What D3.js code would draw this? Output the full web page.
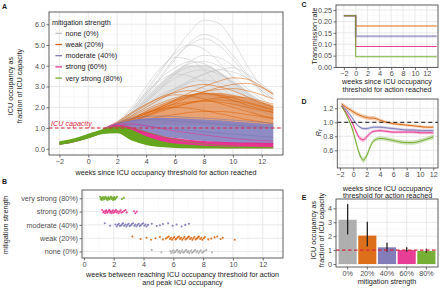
<!DOCTYPE html>
<html>
<head>
<meta charset="utf-8">
<script src="https://cdn.jsdelivr.net/npm/d3@7"></script>
<style>
	body { margin: 0; background: #fff; }
</style>
</head>
<body>
<svg id="fig" width="440" height="288"></svg>
<script>
// groups and colours
const groups = [ 'none (0%)', 'weak (20%)', 'moderate (40%)', 'strong (60%)', 'very strong (80%)' ];
const groupShort = [ '0%', '20%', '40%', '60%', '80%' ];
const colors = [ '#bdbdbd', '#d95f02', '#7570b3', '#e7298a', '#66a61e' ];

// ---- panel A: trajectories (weeks 1 .. 12.8) ----
const weeksLine = [ 1, 2, 3, 4, 5, 6, 7, 8, 9, 10, 11, 12, 12.8 ];
const greyLines = [
	[ 0.9, 1.2, 1.8, 2.7, 3.7, 4.7, 5.6, 6.2, 6.05, 5.2, 4.0, 3.0, 2.65 ],
	[ 0.9, 1.2, 1.7, 2.5, 3.4, 4.3, 5.1, 5.5, 5.25, 4.5, 3.6, 2.8, 2.4 ],
	[ 0.9, 1.25, 1.9, 2.8, 3.8, 4.6, 5.0, 4.8, 4.2, 3.4, 2.7, 2.1, 1.8 ],
	[ 0.9, 1.15, 1.6, 2.2, 2.9, 3.6, 4.2, 4.5, 4.4, 4.0, 3.4, 2.8, 2.4 ],
	[ 0.9, 1.2, 1.8, 2.6, 3.4, 3.9, 4.2, 4.1, 3.7, 3.1, 2.5, 2.0, 1.7 ],
	[ 0.9, 1.15, 1.6, 2.3, 3.0, 3.6, 3.95, 4.0, 3.7, 3.2, 2.6, 2.1, 1.8 ],
	[ 0.88, 1.1, 1.4, 1.9, 2.4, 2.9, 3.3, 3.6, 3.8, 3.7, 3.4, 2.9, 2.5 ],
	[ 0.92, 1.25, 1.9, 2.7, 3.3, 3.6, 3.5, 3.2, 2.8, 2.3, 1.9, 1.5, 1.3 ],
	[ 0.88, 1.1, 1.5, 2.0, 2.5, 2.9, 3.2, 3.3, 3.2, 2.9, 2.5, 2.1, 1.9 ],
	[ 0.9, 1.2, 1.6, 2.1, 2.6, 2.9, 3.0, 2.9, 2.6, 2.3, 1.9, 1.6, 1.4 ],
	[ 0.88, 1.1, 1.4, 1.8, 2.1, 2.4, 2.55, 2.6, 2.5, 2.3, 2.1, 1.8, 1.6 ],
	[ 0.92, 1.3, 2.0, 3.0, 3.9, 4.4, 4.3, 3.8, 3.1, 2.5, 2.0, 1.6, 1.4 ],
	[ 0.88, 1.1, 1.4, 1.8, 2.3, 2.8, 3.2, 3.6, 3.8, 3.9, 3.6, 3.1, 2.7 ],
	[ 0.9, 1.2, 1.8, 2.6, 3.5, 4.4, 5.0, 5.3, 5.0, 4.3, 3.5, 2.7, 2.2 ],
	[ 0.9, 1.2, 1.7, 2.4, 3.1, 3.7, 4.1, 4.2, 4.0, 3.5, 2.9, 2.4, 2.0 ],
	[ 0.9, 1.2, 1.7, 2.3, 2.9, 3.4, 3.7, 3.8, 3.6, 3.2, 2.7, 2.25, 1.95 ],
];
const orangeLines = [
	[ 0.9, 1.15, 1.4, 1.7, 2.0, 2.35, 2.7, 3.0, 3.25, 3.42, 3.35, 3.0, 2.65 ],
	[ 0.9, 1.2, 1.6, 2.0, 2.4, 2.75, 3.0, 3.1, 3.0, 2.8, 2.5, 2.2, 2.0 ],
	[ 0.88, 1.1, 1.4, 1.7, 2.0, 2.3, 2.55, 2.75, 2.85, 2.9, 2.8, 2.6, 2.4 ],
	[ 0.9, 1.25, 1.7, 2.1, 2.5, 2.7, 2.8, 2.7, 2.55, 2.35, 2.1, 1.9, 1.75 ],
	[ 0.88, 1.1, 1.3, 1.6, 1.9, 2.2, 2.5, 2.75, 2.95, 3.1, 3.15, 2.95, 2.6 ],
	[ 0.92, 1.3, 1.75, 2.15, 2.45, 2.6, 2.55, 2.4, 2.2, 2.0, 1.8, 1.6, 1.5 ],
	[ 0.88, 1.15, 1.45, 1.7, 1.95, 2.15, 2.25, 2.3, 2.25, 2.15, 2.0, 1.85, 1.75 ],
	[ 0.9, 1.2, 1.5, 1.75, 1.9, 2.0, 1.95, 1.85, 1.7, 1.55, 1.4, 1.3, 1.2 ],
	[ 0.88, 1.1, 1.25, 1.4, 1.55, 1.65, 1.75, 1.8, 1.8, 1.75, 1.65, 1.55, 1.45 ],
	[ 0.88, 1.1, 1.3, 1.55, 1.8, 2.0, 2.2, 2.35, 2.45, 2.5, 2.45, 2.3, 2.15 ],
	[ 0.9, 1.2, 1.55, 1.9, 2.2, 2.45, 2.6, 2.65, 2.6, 2.45, 2.25, 2.05, 1.9 ],
	[ 0.88, 1.1, 1.35, 1.6, 1.85, 2.05, 2.2, 2.3, 2.35, 2.3, 2.2, 2.0, 1.85 ],
];
const purpleLines = [
	[ 0.95, 1.25, 1.45, 1.55, 1.58, 1.55, 1.5, 1.47, 1.43, 1.38, 1.33, 1.28, 1.22 ],
	[ 0.95, 1.2, 1.35, 1.4, 1.4, 1.35, 1.3, 1.25, 1.2, 1.15, 1.1, 1.05, 1.0 ],
	[ 0.9, 1.1, 1.15, 1.1, 1.02, 0.95, 0.88, 0.82, 0.76, 0.7, 0.65, 0.6, 0.55 ],
];
const pinkLines = [
	[ 0.95, 1.2, 1.2, 1.1, 0.98, 0.86, 0.76, 0.66, 0.58, 0.5, 0.44, 0.4, 0.37 ],
];
const greenLines = [
	[ 0.95, 1.06, 1.0, 0.82, 0.62, 0.45, 0.32, 0.23, 0.17, 0.13, 0.1, 0.08, 0.07 ],
];

// ---- panel A: dense bands of trajectories (weeks -2 .. 12.8) ----
const weeksBand = [ -2, -1, 0, 1, 2, 3, 4, 5, 6, 7, 8, 9, 10, 11, 12, 12.8 ];
const greyLo = [ 0.2, 0.32, 0.52, 0.75, 1.1, 1.4, 1.8, 2.1, 2.3, 2.4, 2.4, 2.3, 2.1, 1.9, 1.7, 1.5 ];
const greyHi = [ 0.32, 0.45, 0.65, 0.92, 1.25, 1.75, 2.5, 3.2, 3.75, 4.05, 4.05, 3.75, 3.3, 2.8, 2.3, 2.0 ];
const orangeLo = [ 0.2, 0.32, 0.52, 0.75, 1.0, 1.05, 1.1, 1.15, 1.15, 1.15, 1.15, 1.1, 1.05, 1.0, 1.0, 0.95 ];
const orangeHi = [ 0.32, 0.45, 0.65, 0.92, 1.2, 1.5, 1.85, 2.15, 2.4, 2.6, 2.7, 2.7, 2.6, 2.45, 2.25, 2.1 ];
const purpleLo = [ 0.2, 0.32, 0.52, 0.75, 0.9, 0.82, 0.72, 0.62, 0.52, 0.44, 0.37, 0.31, 0.27, 0.24, 0.21, 0.2 ];
const purpleHi = [ 0.32, 0.45, 0.65, 0.92, 1.22, 1.38, 1.47, 1.5, 1.48, 1.45, 1.41, 1.37, 1.32, 1.27, 1.22, 1.18 ];
const pinkLo = [ 0.2, 0.32, 0.52, 0.75, 0.8, 0.55, 0.35, 0.22, 0.14, 0.09, 0.06, 0.04, 0.03, 0.03, 0.02, 0.02 ];
const pinkHi = [ 0.32, 0.45, 0.65, 0.92, 1.16, 1.05, 0.82, 0.64, 0.52, 0.44, 0.38, 0.34, 0.32, 0.3, 0.29, 0.28 ];
const greenLo = [ 0.18, 0.32, 0.5, 0.71, 0.75, 0.4, 0.18, 0.08, 0.04, 0.02, 0.01, 0.01, 0.01, 0.01, 0.01, 0.01 ];
const greenHi = [ 0.36, 0.5, 0.72, 0.94, 1.05, 0.92, 0.6, 0.38, 0.26, 0.19, 0.15, 0.12, 0.1, 0.08, 0.07, 0.06 ];

// ---- panel B: weeks between threshold and peak ----
const bNone = [ 4.55, 5.2, 5.8, 5.86, 5.93, 6.0, 6.05, 6.12, 6.2, 6.26, 6.33, 6.4, 6.46, 6.53, 6.6, 6.66, 6.73, 6.8, 6.86, 6.93, 7.0, 7.06, 7.13, 7.2, 7.26, 7.33, 7.4, 7.47, 7.55, 7.62, 7.7, 7.78, 7.85, 7.93, 8.0, 8.1, 8.22, 8.6 ];
const bWeak = [ 3.25, 3.8, 4.2, 4.5, 4.8, 5.1, 5.3, 5.5, 5.6, 5.7, 5.78, 5.85, 5.92, 6.0, 6.07, 6.15, 6.22, 6.3, 6.38, 6.45, 6.52, 6.6, 6.68, 6.75, 6.82, 6.9, 6.98, 7.05, 7.12, 7.2, 7.28, 7.35, 7.42, 7.5, 7.58, 7.65, 7.72, 7.8, 7.88, 7.95, 8.05, 8.12, 8.35, 8.55, 8.77, 8.95, 9.18, 9.32, 10.12 ];
const bModerate = [ 1.4, 1.75, 2.12, 2.2, 2.28, 2.35, 2.42, 2.5, 2.57, 2.63, 2.7, 2.78, 2.85, 2.92, 3.0, 3.07, 3.15, 3.22, 3.3, 3.38, 3.45, 3.52, 3.6, 3.68, 3.75, 3.82, 3.9, 3.98, 4.05, 4.13, 4.2, 4.3, 4.55, 4.88, 5.1, 5.3, 5.65, 5.95, 6.22, 6.55, 6.8, 7.05 ];
const bStrong = [ 1.22, 1.3, 1.35, 1.42, 1.47, 1.5, 1.56, 1.6, 1.66, 1.71, 1.75, 1.8, 1.86, 1.9, 1.95, 2.0, 2.06, 2.1, 2.15, 2.2, 2.27, 2.33, 2.4, 2.46, 2.52, 2.6, 2.7, 2.8, 2.87, 3.36, 3.45, 3.55 ];
const bVeryStrong = [ 1.08, 1.12, 1.17, 1.2, 1.25, 1.28, 1.33, 1.37, 1.41, 1.45, 1.5, 1.53, 1.57, 1.62, 1.66, 1.7, 1.74, 1.79, 1.83, 1.87, 1.91, 1.96, 2.0, 2.04, 2.08, 2.12, 2.17, 2.22, 2.55, 2.68 ];
const bPoints = [ bNone, bWeak, bModerate, bStrong, bVeryStrong ];

// ---- panel C: transmission rate ----
const weeksC = [ -2, 0, 0, 13.7 ];
const cRates = [
	null,
	[ 0.225, 0.225, 0.18, 0.18 ],
	[ 0.225, 0.225, 0.135, 0.135 ],
	[ 0.225, 0.225, 0.09, 0.09 ],
	[ 0.225, 0.225, 0.045, 0.045 ],
];

// ---- panel D: Rt ----
const weeksD = [ -1.75, -1, 0, 0.5, 1, 1.5, 2, 2.5, 3, 4, 5, 6, 7, 8, 9, 10, 11, 12 ];
const dMean = [
	null,
	[ 1.26, 1.21, 1.15, 1.12, 1.1, 1.08, 1.07, 1.06, 1.06, 1.03, 1.0, 0.98, 0.97, 0.96, 0.95, 0.94, 0.93, 0.93 ],
	[ 1.24, 1.17, 1.04, 0.97, 0.93, 0.91, 0.91, 0.92, 0.93, 0.93, 0.92, 0.91, 0.9, 0.89, 0.89, 0.88, 0.88, 0.88 ],
	[ 1.23, 1.13, 0.96, 0.85, 0.77, 0.75, 0.79, 0.84, 0.87, 0.88, 0.87, 0.86, 0.86, 0.86, 0.86, 0.85, 0.85, 0.85 ],
	[ 1.23, 1.1, 0.86, 0.68, 0.53, 0.46, 0.52, 0.64, 0.73, 0.77, 0.76, 0.74, 0.72, 0.71, 0.71, 0.73, 0.76, 0.79 ],
];
const dSpread = [
	null,
	[ 0.03, 0.03, 0.03, 0.03, 0.03, 0.03, 0.03, 0.03, 0.03, 0.025, 0.02, 0.02, 0.02, 0.02, 0.02, 0.02, 0.02, 0.02 ],
	[ 0.02, 0.02, 0.02, 0.02, 0.02, 0.02, 0.02, 0.02, 0.02, 0.02, 0.02, 0.02, 0.02, 0.02, 0.02, 0.02, 0.02, 0.02 ],
	[ 0.02, 0.02, 0.025, 0.03, 0.03, 0.03, 0.03, 0.025, 0.02, 0.02, 0.02, 0.02, 0.02, 0.02, 0.02, 0.02, 0.02, 0.02 ],
	[ 0.02, 0.02, 0.03, 0.035, 0.04, 0.04, 0.04, 0.035, 0.03, 0.03, 0.03, 0.03, 0.03, 0.03, 0.03, 0.03, 0.03, 0.035 ],
];

// ---- panel E: peak occupancy ----
const eMean = [ 3.18, 2.04, 1.2, 1.0, 0.93 ];
const eLo = [ 2.12, 1.25, 0.88, 0.88, 0.82 ];
const eHi = [ 4.3, 3.04, 1.52, 1.2, 1.1 ];

// ---------------------------------------------------------------
const font = '"Liberation Sans", Arial, Helvetica, sans-serif';
const svg = d3.select('#fig').attr('font-family', font);
const icuRed = '#d7263d';

function frame(box, id) {
	svg.append('clipPath').attr('id', id).append('rect')
		.attr('x', box.l).attr('y', box.t).attr('width', box.r - box.l).attr('height', box.b - box.t);
	svg.append('rect')
		.attr('x', box.l).attr('y', box.t).attr('width', box.r - box.l).attr('height', box.b - box.t)
		.attr('fill', '#fff');
}

function grid(box, x, y, xMajor, xMinor, yMajor, yMinor) {
	const g = svg.append('g');
	const minor = { stroke: '#f2f2f2', w: 0.5 };
	const major = { stroke: '#e3e3e3', w: 0.8 };
	[ [ xMinor, minor ], [ xMajor, major ] ].forEach(([ vals, s ]) => {
		g.selectAll(null).data(vals).enter().append('line')
			.attr('x1', (d) => x(d)).attr('x2', (d) => x(d)).attr('y1', box.t).attr('y2', box.b)
			.attr('stroke', s.stroke).attr('stroke-width', s.w);
	});
	[ [ yMinor, minor ], [ yMajor, major ] ].forEach(([ vals, s ]) => {
		g.selectAll(null).data(vals).enter().append('line')
			.attr('y1', (d) => y(d)).attr('y2', (d) => y(d)).attr('x1', box.l).attr('x2', box.r)
			.attr('stroke', s.stroke).attr('stroke-width', s.w);
	});
}

function border(box) {
	svg.append('rect')
		.attr('x', box.l).attr('y', box.t).attr('width', box.r - box.l).attr('height', box.b - box.t)
		.attr('fill', 'none').attr('stroke', '#4d4d4d').attr('stroke-width', 0.9);
}

function styleAxis(sel) {
	sel.attr('font-family', font).attr('font-size', 7.2);
	sel.select('.domain').remove();
	sel.selectAll('line').attr('stroke', '#4d4d4d').attr('stroke-width', 0.8);
	sel.selectAll('text').attr('fill', '#4d4d4d');
}

function axes(box, x, y, xTicks, yTicks, xFmt, yFmt) {
	svg.append('g').attr('transform', 'translate(0,' + box.b + ')')
		.call(d3.axisBottom(x).tickValues(xTicks).tickFormat(xFmt).tickSize(2.5).tickPadding(1.2))
		.call(styleAxis);
	svg.append('g').attr('transform', 'translate(' + box.l + ',0)')
		.call(d3.axisLeft(y).tickValues(yTicks).tickFormat(yFmt).tickSize(2.5).tickPadding(1.5))
		.call(styleAxis);
}

function text(x, y, str, opts = {}) {
	const t = svg.append('text')
		.attr('x', x).attr('y', y)
		.attr('font-size', opts.size || 7.2)
		.attr('fill', opts.fill || '#1a1a1a')
		.attr('text-anchor', opts.anchor || 'middle')
		.attr('dominant-baseline', 'central')
		.text(str);
	if (opts.rotate) t.attr('transform', 'rotate(-90,' + x + ',' + y + ')');
	if (opts.bold) t.attr('font-weight', 'bold');
	if (opts.italic) t.attr('font-style', 'italic');
	return t;
}

const intFmt = d3.format('d');
const evenWeeks = [ -2, 0, 2, 4, 6, 8, 10, 12 ];
const oddWeeks = [ -3, -1, 1, 3, 5, 7, 9, 11, 13 ];

// ================= Panel A =================
const A = { l: 49, r: 283, t: 12, b: 155 };
const xA = d3.scaleLinear().domain([ -2.72, 13.47 ]).range([ A.l, A.r ]);
const yA = d3.scaleLinear().domain([ -0.3, 6.59 ]).range([ A.b, A.t ]);
frame(A, 'clipA');
grid(A, xA, yA, evenWeeks, oddWeeks, [ 0, 1, 2, 3, 4, 5, 6 ], [ 0.5, 1.5, 2.5, 3.5, 4.5, 5.5, 6.5 ]);

const gA = svg.append('g').attr('clip-path', 'url(#clipA)');
const bandA = d3.area().x((d) => xA(d[0])).y0((d) => yA(d[1])).y1((d) => yA(d[2])).curve(d3.curveMonotoneX);
const lineA = d3.line().x((d) => xA(d[0])).y((d) => yA(d[1])).curve(d3.curveMonotoneX);

const bandsA = [
	[ greyLo, greyHi, '#d4d4d4', 0.6 ],
	[ orangeLo, orangeHi, '#e07a35', 0.7 ],
	[ purpleLo, purpleHi, '#8581c0', 0.92 ],
	[ pinkLo, pinkHi, '#e7298a', 0.95 ],
	[ greenLo, greenHi, '#66a61e', 1 ],
];
const linesA = [
	[ greyLines, '#c2c2c2' ],
	[ orangeLines, '#d95f02' ],
	[ purpleLines, '#7570b3' ],
	[ pinkLines, '#e7298a' ],
	[ greenLines, '#66a61e' ],
];
groups.forEach((grp, i) => {
	const [ lo, hi, fill, op ] = bandsA[i];
	gA.append('path')
		.datum(weeksBand.map((w, j) => [ w, lo[j], hi[j] ]))
		.attr('d', bandA)
		.attr('fill', fill)
		.attr('fill-opacity', op);
	gA.selectAll(null)
		.data(linesA[i][0])
		.enter()
		.append('path')
		.attr('d', (d) => lineA(weeksLine.map((w, j) => [ w, d[j] ])))
		.attr('fill', 'none')
		.attr('stroke', linesA[i][1])
		.attr('stroke-width', 0.6)
		.attr('stroke-opacity', 0.85);
});

// ICU capacity
svg.append('line')
	.attr('x1', A.l).attr('x2', A.r).attr('y1', yA(1)).attr('y2', yA(1))
	.attr('stroke', icuRed).attr('stroke-width', 1.1).attr('stroke-dasharray', '3.5,2.5');
text(51, yA(1) - 5, 'ICU capacity', { anchor: 'start', fill: icuRed, italic: true });

// legend
text(52, 22.3, 'mitigation strength', { anchor: 'start' });
groups.forEach((grp, i) => {
	const ly = 33.3 + i * 11.2;
	svg.append('line').attr('x1', 55.5).attr('x2', 62).attr('y1', ly).attr('y2', ly)
		.attr('stroke', colors[i]).attr('stroke-width', 1.2);
	text(65.5, ly, grp, { anchor: 'start' });
});
border(A);
axes(A, xA, yA, evenWeeks, [ 0, 1, 2, 3, 4, 5, 6 ], intFmt, d3.format('.1f'));
text((A.l + A.r) / 2, 172.5, 'weeks since ICU occupancy threshold for action reached');
text(10.5, 86, 'ICU occupancy as', { rotate: true });
text(19.5, 86, 'fraction of ICU capacity', { rotate: true });
text(4.5, 6, 'A', { bold: true, size: 7 });

// ================= Panel B =================
const B = { l: 82, r: 283, t: 190, b: 258 };
const xB = d3.scaleLinear().domain([ -0.13, 13.36 ]).range([ B.l, B.r ]);
const yB = d3.scalePoint().domain(groups.slice().reverse()).range([ 198.3, 251.5 ]);
frame(B, 'clipB');
grid(B, xB, yB, [ 0, 2, 4, 6, 8, 10, 12 ], [ 1, 3, 5, 7, 9, 11, 13 ], groups, []);
const jitter = [ -1.6, 0.8, -0.4, 1.6, 0, -1.2, 1.2, 0.4, -0.8 ];
groups.forEach((grp, i) => {
	svg.append('g').attr('clip-path', 'url(#clipB)')
		.selectAll('circle')
		.data(bPoints[i])
		.enter()
		.append('circle')
		.attr('cx', (d) => xB(d))
		.attr('cy', (d, j) => yB(grp) + jitter[j % jitter.length])
		.attr('r', 1.05)
		.attr('fill', i === 0 ? '#a8a8a8' : colors[i])
		.attr('fill-opacity', 0.85);
});
border(B);
axes(B, xB, yB, [ 0, 2, 4, 6, 8, 10, 12 ], groups, intFmt, (d) => d);
text((B.l + B.r) / 2, 274.8, 'weeks between reaching ICU occupancy threshold for action');
text((B.l + B.r) / 2, 282.8, 'and peak ICU occupancy');
text(5.5, 225, 'mitigation strength', { rotate: true });
text(4.5, 181.5, 'B', { bold: true, size: 7 });

// ================= Panel C =================
const C = { l: 336, r: 438, t: 5, b: 67.5 };
const xC = d3.scaleLinear().domain([ -3.33, 13.9 ]).range([ C.l, C.r ]);
const yC = d3.scaleLinear().domain([ -0.002, 0.272 ]).range([ C.b, C.t ]);
frame(C, 'clipC');
grid(C, xC, yC, evenWeeks, oddWeeks, [ 0, 0.05, 0.1, 0.15, 0.2, 0.25 ], [ 0.025, 0.075, 0.125, 0.175, 0.225 ]);
const lineC = d3.line().x((d) => xC(d[0])).y((d) => yC(d[1]));
cRates.forEach((rates, i) => {
	if (!rates) return;
	svg.append('path')
		.attr('clip-path', 'url(#clipC)')
		.attr('d', lineC(weeksC.map((w, j) => [ w, rates[j] ])))
		.attr('fill', 'none')
		.attr('stroke', colors[i])
		.attr('stroke-width', i === 2 ? 2 : 1)
		.attr('stroke-opacity', i === 2 ? 0.6 : 0.9);
});
border(C);
axes(C, xC, yC, evenWeeks, [ 0, 0.05, 0.1, 0.15, 0.2, 0.25 ], intFmt, d3.format('.2f'));
text(314, 36, 'Transmission rate', { rotate: true });
text((C.l + C.r) / 2, 81.8, 'weeks since ICU occupancy');
text((C.l + C.r) / 2, 89.8, 'threshold for action reached');
text(304, 4.5, 'C', { bold: true, size: 7 });

// ================= Panel D =================
const D = { l: 337.3, r: 438, t: 99, b: 168 };
const xD = d3.scaleLinear().domain([ -2.4, 12.7 ]).range([ D.l, D.r ]);
const yD = d3.scaleLinear().domain([ 0.347, 1.333 ]).range([ D.b, D.t ]);
frame(D, 'clipD');
grid(D, xD, yD, evenWeeks, oddWeeks, [ 0.4, 0.6, 0.8, 1.0, 1.2 ], [ 0.5, 0.7, 0.9, 1.1, 1.3 ]);
const gD = svg.append('g').attr('clip-path', 'url(#clipD)');
const ribbonD = d3.area().x((d) => xD(d[0])).y0((d) => yD(d[1] - d[2])).y1((d) => yD(d[1] + d[2])).curve(d3.curveMonotoneX);
const lineD = d3.line().x((d) => xD(d[0])).y((d) => yD(d[1])).curve(d3.curveMonotoneX);
dMean.forEach((mean, i) => {
	if (!mean) return;
	const rows = weeksD.map((w, j) => [ w, mean[j], dSpread[i][j] ]);
	gD.append('path').datum(rows).attr('d', ribbonD).attr('fill', colors[i]).attr('fill-opacity', 0.3);
	gD.append('path').datum(rows).attr('d', lineD).attr('fill', 'none').attr('stroke', colors[i]).attr('stroke-width', 0.9);
});
gD.append('line')
	.attr('x1', D.l).attr('x2', D.r).attr('y1', yD(1)).attr('y2', yD(1))
	.attr('stroke', '#111').attr('stroke-width', 1).attr('stroke-dasharray', '4,3');
border(D);
axes(D, xD, yD, evenWeeks, [ 0.6, 0.8, 1.0, 1.2 ], intFmt, d3.format('.1f'));
const rt = svg.append('text')
	.attr('transform', 'translate(318,133) rotate(-90)')
	.attr('font-size', 7.5).attr('font-style', 'italic').attr('fill', '#1a1a1a')
	.attr('text-anchor', 'middle').attr('dominant-baseline', 'central');
rt.append('tspan').text('R');
rt.append('tspan').attr('font-size', 5.5).attr('dy', 1.5).text('t');
text((D.l + D.r) / 2, 188, 'weeks since ICU occupancy');
text((D.l + D.r) / 2, 195.5, 'threshold for action reached');
text(304, 101, 'D', { bold: true, size: 7 });

// ================= Panel E =================
const E = { l: 336, r: 438, t: 199, b: 267 };
const xE = d3.scaleBand().domain(groupShort).range([ 337, 437 ]).padding(0.08);
const yE = d3.scaleLinear().domain([ -0.215, 4.67 ]).range([ E.b, E.t ]);
frame(E, 'clipE');
grid(E, (d) => xE(d) + xE.bandwidth() / 2, yE, groupShort, [], [ 0, 1, 2, 3, 4 ], [ 0.5, 1.5, 2.5, 3.5, 4.5 ]);
const gE = svg.append('g').attr('clip-path', 'url(#clipE)');
gE.selectAll('rect')
	.data(eMean)
	.enter()
	.append('rect')
	.attr('x', (d, i) => xE(groupShort[i]))
	.attr('width', xE.bandwidth())
	.attr('y', (d) => yE(d))
	.attr('height', (d) => yE(0) - yE(d))
	.attr('fill', (d, i) => (i === 0 ? '#a6a6a6' : colors[i]))
	.attr('fill-opacity', 0.9);
gE.selectAll('.err')
	.data(eMean)
	.enter()
	.append('line')
	.attr('x1', (d, i) => xE(groupShort[i]) + xE.bandwidth() / 2)
	.attr('x2', (d, i) => xE(groupShort[i]) + xE.bandwidth() / 2)
	.attr('y1', (d, i) => yE(eLo[i]))
	.attr('y2', (d, i) => yE(eHi[i]))
	.attr('stroke', '#222')
	.attr('stroke-width', 1.3);
gE.append('line')
	.attr('x1', E.l).attr('x2', E.r).attr('y1', yE(1)).attr('y2', yE(1))
	.attr('stroke', icuRed).attr('stroke-width', 1.1).attr('stroke-dasharray', '3.5,2.5');
border(E);
axes(E, xE, yE, groupShort, [ 0, 1, 2, 3, 4 ], (d) => d, intFmt);
text((E.l + E.r) / 2, 281.8, 'mitigation strength');
text(313, 230, 'ICU occupancy as', { rotate: true });
text(321.5, 230, 'fraction of ICU capacity', { rotate: true });
text(304, 197, 'E', { bold: true, size: 7 });
</script>
</body>
</html>
